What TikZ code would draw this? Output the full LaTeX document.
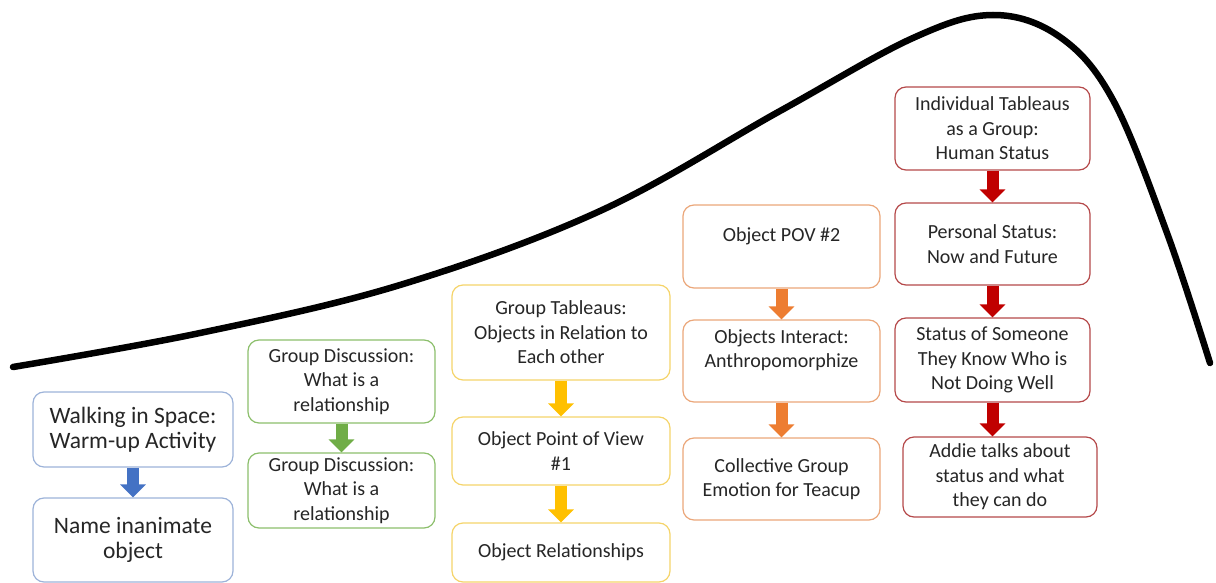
\documentclass[tikz,border=0pt]{standalone}
\usepackage{fontspec}
\setmainfont{Carlito}
\usetikzlibrary{arrows.meta}
\definecolor{txt}{HTML}{262626}
\definecolor{bluB}{HTML}{9DB3D9}
\definecolor{bluA}{HTML}{4472C4}
\definecolor{grnB}{HTML}{8CBF6C}
\definecolor{grnA}{HTML}{70AD47}
\definecolor{ylwB}{HTML}{F5D46A}
\definecolor{ylwA}{HTML}{FFC000}
\definecolor{orgB}{HTML}{EBA77A}
\definecolor{orgA}{HTML}{ED7D31}
\definecolor{redB}{HTML}{B5494A}
\definecolor{redA}{HTML}{C00000}
\begin{document}
\begin{tikzpicture}[x=1pt,y=-1pt,
  box/.style={draw, line width=1.2pt, rounded corners=11pt, fill=white, text=txt, align=center,
    inner sep=0pt, font=\fontsize{20}{24.5}\selectfont},
  bbox/.style={box, draw=bluB, font=\fontsize{23.5}{25.5}\selectfont},
  gbox/.style={box, draw=grnB},
  ybox/.style={box, draw=ylwB},
  obox/.style={box, draw=orgB},
  rbox/.style={box, draw=redB},
  flow/.style={line width=12pt, -{Triangle[width=25pt,length=13pt]}},
]
\useasboundingbox (0,0) rectangle (1216,583);
% curve
\draw[line width=6.5pt, line cap=round, line join=round]
  plot[smooth, tension=0.6] coordinates {(13,367) (200,333) (400,285) (600,211) (780,111) (913,38) (993,15) (1060,37) (1113,100) (1167,233) (1210,363)};
% blue
\node[bbox, minimum width=200pt, minimum height=75pt] (b1) at (133,429.5) {Walking in Space:\\Warm-up Activity};
\node[bbox, minimum width=200pt, minimum height=84pt] (b2) at (133,540) {Name inanimate\\object};
% green
\node[gbox, minimum width=187pt, minimum height=83pt] (g1) at (341.5,381.5) {Group Discussion:\\What is a\\relationship};
\node[gbox, minimum width=187pt, minimum height=75pt] (g2) at (341.5,490.5) {Group Discussion:\\What is a\\relationship};
% yellow
\node[ybox, minimum width=218pt, minimum height=95pt] (y1) at (561,332.5) {Group Tableaus:\\Objects in Relation to\\Each other};
\node[ybox, minimum width=218pt, minimum height=68pt] (y2) at (561,451) {Object Point of View\\\#1};
\node[ybox, minimum width=218pt, minimum height=59pt] (y3) at (561,552.5) {Object Relationships};
% orange
\node[obox, minimum width=197pt, minimum height=83pt] (o1) at (781.5,246.5) {Object POV \#2\\\mbox{}};
\node[obox, minimum width=197pt, minimum height=82pt] (o2) at (781.5,361) {Objects Interact:\\Anthropomorphize\\\mbox{}};
\node[obox, minimum width=197pt, minimum height=82pt] (o3) at (781.5,479) {Collective Group\\Emotion for Teacup};
% red
\node[rbox, minimum width=195pt, minimum height=83pt] (r1) at (992.5,128.5) {Individual Tableaus\\as a Group:\\Human Status};
\node[rbox, minimum width=195pt, minimum height=82pt] (r2) at (992.5,244) {Personal Status:\\Now and Future};
\node[rbox, minimum width=195pt, minimum height=84pt] (r3) at (992.5,360) {Status of Someone\\They Know Who is\\Not Doing Well};
\node[rbox, minimum width=194pt, minimum height=80pt] (r4) at (1000,477) {Addie talks about\\status and what\\they can do};
% arrows
\draw[flow, bluA] (b1.south) -- (b2.north);
\draw[flow, grnA] (g1.south) -- (g2.north);
\draw[flow, ylwA] (y1.south) -- (y2.north);
\draw[flow, ylwA] (y2.south) -- (y3.north);
\draw[flow, orgA] (o1.south) -- (o2.north);
\draw[flow, orgA] (o2.south) -- (o3.north);
\draw[flow, redA] (r1.south) -- (r2.north);
\draw[flow, redA] (r2.south) -- (r3.north);
\draw[flow, redA] (r3.south) -- (r3.south |- r4.north);
\end{tikzpicture}
\end{document}
